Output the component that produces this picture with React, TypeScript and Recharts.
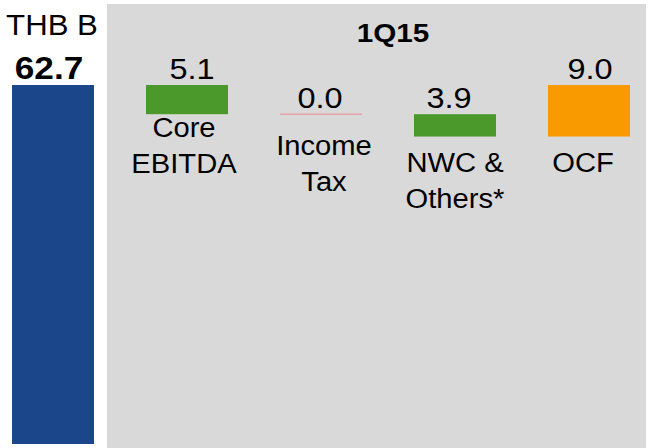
import React from "react";
import { BarChart, Bar, XAxis, YAxis } from "recharts";

const categories = ["Start", "Core EBITDA", "Income Tax", "NWC & Others*", "OCF"];
const amounts = [62.7, 5.1, 0.0, 3.9, 9.0];
const valueLabels = ["62.7", "5.1", "0.0", "3.9", "9.0"];
const categoryLines = [[], ["Core", "EBITDA"], ["Income", "Tax"], ["NWC &", "Others*"], ["OCF"]];
const kinds = ["start", "drop", "drop", "drop", "total"];
const unitLabel = "THB B";
const periodLabel = "1Q15";

const COLORS = ["#1b4689", "#4a992a", "#e3a3ad", "#4a992a", "#f89a00"];
const FONT = "'Liberation Sans', Arial, Helvetica, sans-serif";
const CAT_DY = [0, 23, 41, 35, 35];
const VAL_DX = [-4, 5, -1, -6, 1];
const CAT_DX = [0, -3, 3, 0, -6];

let level = 0;
const data = categories.map((name, i) => {
  const kind = kinds[i];
  let base = 0;
  if (kind === "start") {
    base = 0;
    level = amounts[i];
  } else if (kind === "drop") {
    level -= amounts[i];
    base = level;
  } else {
    base = level;
  }
  return { name, base, delta: amounts[i], idx: i };
});

function T({ x, y, size, bold, sx, children }: any) {
  return (
    <text
      transform={`translate(${x},${y}) scale(${sx},1)`}
      x={0}
      y={0}
      textAnchor="middle"
      fontSize={size}
      fontWeight={bold ? 700 : 400}
      fontFamily={FONT}
      fill="#000"
    >
      {children}
    </text>
  );
}

const BarShape = (props: any) => {
  const { x, y, width, height, payload } = props;
  const i = payload.idx;
  const cx = x + width / 2;
  const h = Math.max(0, height);
  const bottom = y + h;
  const els: any[] = [];
  if (h < 0.5) {
    els.push(
      <line key="l" x1={x} x2={x + width} y1={y} y2={y} stroke={COLORS[i]} strokeWidth={1.5} />
    );
  } else {
    els.push(<rect key="r" x={x} y={y} width={width} height={h} fill={COLORS[i]} />);
  }
  if (i === 0) {
    els.push(
      <T key="u" x={cx - 1} y={y - 50} size={30} sx={1.04}>
        {unitLabel}
      </T>
    );
    els.push(
      <T key="v" x={cx + VAL_DX[i]} y={y - 6} size={32} bold sx={1.1}>
        {valueLabels[i]}
      </T>
    );
  } else {
    els.push(
      <T key="v" x={cx + VAL_DX[i]} y={y - 6} size={29} sx={1.12}>
        {valueLabels[i]}
      </T>
    );
    categoryLines[i].forEach((line: string, k: number) => {
      els.push(
        <T key={"c" + k} x={cx + CAT_DX[i]} y={bottom + CAT_DY[i] + k * 36} size={27} sx={1.08}>
          {line}
        </T>
      );
    });
  }
  return <g>{els}</g>;
};

export default function App() {
  return (
    <div
      style={{
        position: "absolute",
        left: 0,
        top: 0,
        width: 652,
        height: 448,
        overflow: "hidden",
        background: "#ffffff",
      }}
    >
      <div
        style={{
          position: "absolute",
          left: 107,
          top: 4,
          width: 539,
          height: 444,
          background: "#d9d9d9",
        }}
      />
      <svg width={652} height={60} style={{ position: "absolute", left: 0, top: 0 }}>
        <T x={393} y={42} size={26.5} bold sx={1.12}>
          {periodLabel}
        </T>
      </svg>
      <div style={{ position: "absolute", left: -14, top: 0 }}>
        <BarChart
          width={670}
          height={448}
          data={data}
          margin={{ top: 85, right: 0, bottom: 4, left: 0 }}
          barSize={82}
        >
          <XAxis dataKey="name" hide />
          <YAxis hide domain={[0, amounts[0]]} />
          <Bar dataKey="base" stackId="a" fill="transparent" isAnimationActive={false} />
          <Bar dataKey="delta" stackId="a" shape={BarShape} isAnimationActive={false} />
        </BarChart>
      </div>
    </div>
  );
}
